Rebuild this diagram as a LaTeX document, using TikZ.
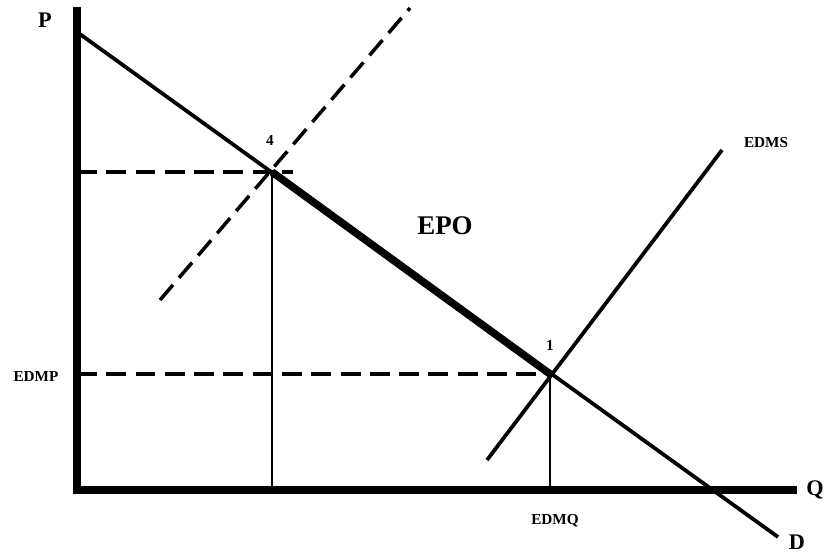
\documentclass[tikz,border=0pt]{standalone}
\usepackage{fontspec}
\setmainfont{Liberation Serif}
\usepackage{tikz}

\begin{document}
\begin{tikzpicture}[
  x=0.03cm, y=-0.03cm,
  axis/.style={line width=6pt},
  curve/.style={line width=3.2pt},
  guide/.style={line width=3pt, dash pattern=on 17pt off 8pt},
  drop/.style={line width=2pt},
  lbl/.style={font=\bfseries\fontsize{13}{13}\selectfont, inner sep=0pt},
  big/.style={font=\bfseries\fontsize{19}{19}\selectfont, inner sep=0pt}
  ]
\useasboundingbox (0,0) rectangle (825,554);

% axes
\coordinate (O) at (77,490);
\coordinate (Ptop) at (77,7);
\coordinate (Qend) at (797,490);
\draw[axis] (Ptop) -- (O) -- (Qend);

% points
\coordinate (Dtop) at (77,32);
\coordinate (Dend) at (778,537);
\coordinate (e4) at (272,172);
\coordinate (e1) at (550,374);

% demand
\draw[curve] (Dtop) -- (Dend);
\draw[line width=6.5pt] (e4) -- (e1);

% supply curves
\draw[curve] (487,460) coordinate (Slo) -- (722,150) coordinate (Shi);
\draw[guide] (160,300) coordinate (Glo) -- (410,8) coordinate (Ghi);

% guide lines
\draw[guide] (O |- e4) -- ([xshift=18]e4);
\draw[guide] (O |- e1) -- (e1);
\draw[drop] (e4) -- (e4 |- O);
\draw[drop] (e1) -- (e1 |- O);

% labels
\node[big] (lP) at (45,20) {P};
\node[big] (lQ) at (815,490) {Q};
\node[big] (lD) at (797,542) {D};
\node[big, font=\bfseries\fontsize{23}{23}\selectfont] (lEPO) at (445,226) {EPO};
\node[lbl] (l4) at (270,140) {4};
\node[lbl] (l1) at (550,345) {1};
\node[lbl] (lS) at (766,143) {EDMS};
\node[lbl] (lP2) at (36,377) {EDMP};
\node[lbl] (lQ2) at (555,521) {EDMQ};

\end{tikzpicture}
\end{document}
